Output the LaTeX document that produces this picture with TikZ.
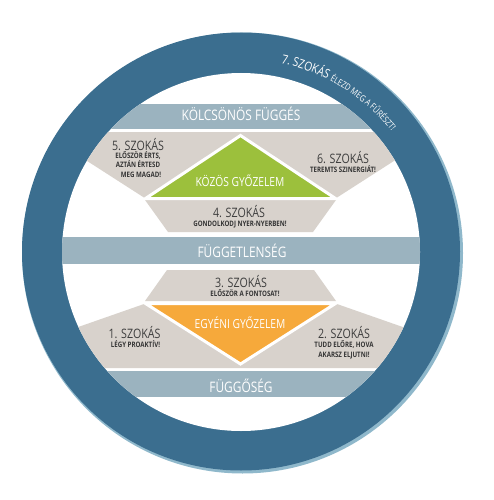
\documentclass[tikz,border=0pt]{standalone}
\usepackage{fontspec}
\setmainfont{Open Sans}
\newfontfamily\cf[FakeStretch=0.82]{Open Sans}
\usetikzlibrary{decorations.text}
\definecolor{ringc}{HTML}{3B6E8F}
\definecolor{rimc}{HTML}{8FB8CB}
\definecolor{bandc}{HTML}{9BB3BF}
\definecolor{grayc}{HTML}{D8D2CC}
\definecolor{greenc}{HTML}{9CC03C}
\definecolor{orangec}{HTML}{F6A93B}
\definecolor{txtc}{HTML}{3E3E3E}
\tikzset{
  bandbox/.style={fill=bandc, minimum width=370pt, minimum height=25pt, inner sep=0pt},
  bandtxt/.style={anchor=base, inner sep=0pt, text=white, font=\cf\fontsize{14.5}{15}\selectfont},
  hd/.style={anchor=base, inner sep=0pt, text=txtc, font=\cf\fontsize{13}{14}\selectfont},
  subt/.style={anchor=base, inner sep=0pt, text=txtc!85!black, font=\cf\bfseries\fontsize{7.5}{8}\selectfont},
  wtxt/.style={anchor=base, inner sep=0pt, text=white, font=\cf\fontsize{12.5}{13}\selectfont},
  grayshape/.style={fill=grayc},
  tri/.style={draw=white, line width=3pt, line join=miter}
}
\begin{document}
\begin{tikzpicture}[x=1pt,y=-1pt]
\useasboundingbox (0,0) rectangle (494,500);
% ring
\fill[rimc] (242.5,253) circle (220.5);
\fill[ringc] (241,251.5) circle (219);
\fill[white] (241,252) circle (179);
\begin{scope}
\clip (241,252) circle (179);
% bands
\node[bandbox, minimum height=25pt] (b1) at (241,116.5) {};
\node[bandbox, minimum height=27pt] (b2) at (241,250.5) {};
\node[bandbox, minimum height=26pt] (b3) at (241,383.5) {};
% top group
\fill[grayshape] (42,132) -- (439,132) -- (335.5,198.5) -- (145.5,198.5) -- cycle;
\fill[grayshape] (145,200) -- (336,200) -- (313,232) -- (168,232) -- cycle;
\filldraw[tri, fill=greenc] (145.5,198.5) -- (335.5,198.5) -- (240.5,135.5) -- cycle;
% bottom group
\fill[grayshape] (-39,368) -- (520,368) -- (335.5,303.5) -- (145.5,303.5) -- cycle;
\fill[grayshape] (167,270) -- (314,270) -- (336,301) -- (145,301) -- cycle;
\filldraw[tri, fill=orangec] (145.5,303.5) -- (335.5,303.5) -- (240.5,364) -- cycle;
\end{scope}
% texts
\node[bandtxt] (t1) at (241,121) {KÖLCSÖNÖS FÜGGÉS};
\node[bandtxt] (t2) at (242,257) {FÜGGETLENSÉG};
\node[bandtxt] (t3) at (241,392) {FÜGGŐSÉG};
\node[hd] (h5) at (138,150) {5. SZOKÁS};
\node[subt] (s5a) at (138,158) {ELŐSZÖR ÉRTS,};
\node[subt] (s5b) at (138,167.5) {AZTÁN ÉRTESD};
\node[subt] (s5c) at (141,177) {MEG MAGAD!};
\node[hd] (h6) at (343,163) {6. SZOKÁS};
\node[subt] (s6) at (343,172) {TEREMTS SZINERGIÁT!};
\node[wtxt] (kgy) at (240,186) {KÖZÖS GYŐZELEM};
\node[hd] (h4) at (239,217) {4. SZOKÁS};
\node[subt] (s4) at (240,226) {GONDOLKODJ NYER-NYERBEN!};
\node[hd] (h3) at (241,287) {3. SZOKÁS};
\node[subt] (s3) at (245,296) {ELŐSZÖR A FONTOSAT!};
\node[wtxt] (egy) at (240,328) {EGYÉNI GYŐZELEM};
\node[hd] (h1) at (134.5,338) {1. SZOKÁS};
\node[subt] (s1) at (135.5,347) {LÉGY PROAKTÍV!};
\node[hd] (h2) at (344,338) {2. SZOKÁS};
\node[subt] (s2a) at (344,347) {TUDD ELŐRE, HOVA};
\node[subt] (s2b) at (344,357) {AKARSZ ELJUTNI!};
% arc text
\begin{scope}[y=1pt]
\path[decorate, decoration={text along path, text color=white,
  text={|\cf\fontsize{12.5}{13}\selectfont|7. SZOKÁS |\cf\fontsize{9}{10}\selectfont|ÉLEZD MEG A FŰRÉSZT!}}]
  (241,-252) ++(78:193) arc[start angle=78, end angle=25, radius=193];
\end{scope}
\end{tikzpicture}
\end{document}
